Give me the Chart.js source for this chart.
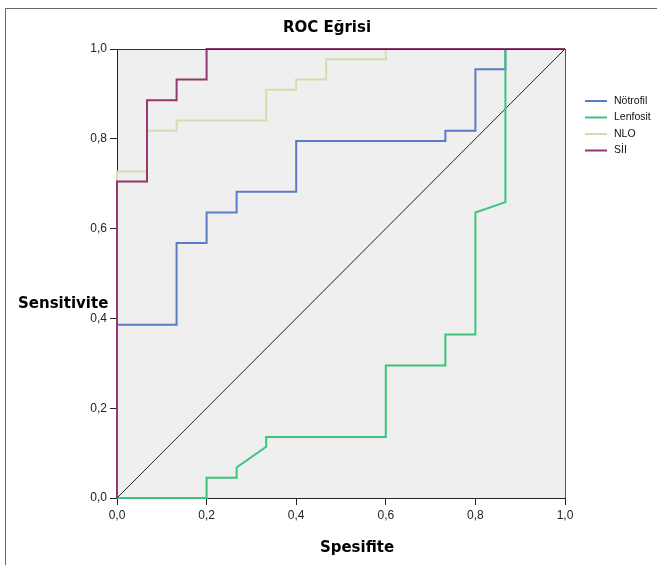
<!DOCTYPE html>
<html lang="en">
<head>
    <meta charset="UTF-8">
    <script src="https://cdn.jsdelivr.net/npm/chart.js@4.4.1/dist/chart.umd.min.js"></script>
    <title>ROC Eğrisi</title>
    <style>
        body { margin: 0; background: #fff; }
    </style>
</head>
<body>
    <canvas id="myChart" width="657" height="565"></canvas>
    <script>

        // ROC curve vertices (1 - specificity on x, sensitivity on y)
        var notrofilX = [0, 0, 0.133, 0.133, 0.2, 0.2, 0.267, 0.267, 0.4, 0.4, 0.733, 0.733, 0.8, 0.8, 0.867, 0.867, 1];
        var notrofilY = [0, 0.386, 0.386, 0.568, 0.568, 0.636, 0.636, 0.682, 0.682, 0.795, 0.795, 0.818, 0.818, 0.955, 0.955, 1, 1];

        var lenfositX = [0, 0.2, 0.2, 0.267, 0.267, 0.333, 0.333, 0.6, 0.6, 0.733, 0.733, 0.8, 0.8, 0.867, 0.867, 1];
        var lenfositY = [0, 0, 0.045, 0.045, 0.068, 0.114, 0.136, 0.136, 0.295, 0.295, 0.364, 0.364, 0.636, 0.659, 1, 1];

        var nloX = [0, 0, 0.067, 0.067, 0.133, 0.133, 0.333, 0.333, 0.4, 0.4, 0.467, 0.467, 0.6, 0.6, 1];
        var nloY = [0, 0.727, 0.727, 0.818, 0.818, 0.841, 0.841, 0.909, 0.909, 0.932, 0.932, 0.977, 0.977, 1, 1];

        var siiX = [0, 0, 0.067, 0.067, 0.133, 0.133, 0.2, 0.2, 1];
        var siiY = [0, 0.705, 0.705, 0.886, 0.886, 0.932, 0.932, 1, 1];

        var refX = [0, 1];
        var refY = [0, 1];

        var tickValues = [0, 0.2, 0.4, 0.6, 0.8, 1.0];
        var legendLabels = ['Nötrofil', 'Lenfosit', 'NLO', 'SİI'];
        var legendColors = ['#5a7cc6', '#3cc47e', '#d6dcaa', '#94376f'];

        function pts(xs, ys) {
            return xs.map(function(x, i) { return { x: x, y: ys[i] }; });
        }

        function line(label, xs, ys, color, width) {
            return {
                label: label,
                data: pts(xs, ys),
                showLine: true,
                borderColor: color,
                backgroundColor: color,
                borderWidth: width,
                pointRadius: 0,
                fill: false,
                tension: 0,
                clip: false
            };
        }

        function fmt(v) {
            return v.toFixed(1).replace('.', ',');
        }

        // background, frame, titles and legend
        var decor = {
            id: 'decor',
            beforeDraw: function(chart) {
                var c = chart.ctx, a = chart.chartArea;
                c.save();
                c.fillStyle = '#fff';
                c.fillRect(0, 0, chart.width, chart.height);
                c.fillStyle = '#efefef';
                c.fillRect(a.left, a.top, a.right - a.left, a.bottom - a.top);
                c.restore();
            },
            afterDraw: function(chart) {
                var c = chart.ctx, a = chart.chartArea;
                c.save();
                c.lineWidth = 1;
                c.strokeStyle = '#333';
                c.beginPath();
                c.moveTo(a.left, a.top + 0.5);
                c.lineTo(a.right, a.top + 0.5);
                c.stroke();
                c.strokeStyle = '#555';
                c.beginPath();
                c.moveTo(a.right + 0.5, a.top);
                c.lineTo(a.right + 0.5, a.bottom);
                c.stroke();

                // outer frame
                c.strokeStyle = '#666';
                c.beginPath();
                c.moveTo(5.5, chart.height);
                c.lineTo(5.5, 8.5);
                c.lineTo(chart.width, 8.5);
                c.stroke();

                c.fillStyle = '#000';
                c.font = 'bold 15px "DejaVu Sans"';
                c.textAlign = 'center';
                c.textBaseline = 'middle';
                c.fillText('ROC Eğrisi', 327, 28);
                c.fillText('Spesifite', 357, 548);
                c.textAlign = 'left';
                c.fillText('Sensitivite', 18, 304);

                // legend
                c.font = '10.5px "Liberation Sans"';
                for (var i = 0; i < legendLabels.length; i++) {
                    var y = 101 + i * 16.5;
                    c.strokeStyle = legendColors[i];
                    c.lineWidth = 2;
                    c.beginPath();
                    c.moveTo(585, y);
                    c.lineTo(607, y);
                    c.stroke();
                    c.fillStyle = '#111';
                    c.fillText(legendLabels[i], 614, y);
                }
                c.restore();
            }
        };

        var axisOpts = function(fitFn) {
            return {
                type: 'linear',
                min: 0,
                max: 1,
                afterBuildTicks: function(s) {
                    s.ticks = tickValues.map(function(v) { return { value: v }; });
                },
                ticks: {
                    callback: function(v) { return fmt(v); },
                    color: '#222',
                    font: { family: 'Liberation Sans', size: 12 },
                    padding: 3,
                    maxRotation: 0
                },
                grid: {
                    drawOnChartArea: false,
                    drawTicks: true,
                    tickLength: 7,
                    tickColor: '#222'
                },
                border: { color: '#222', width: 1 },
                afterFit: fitFn
            };
        };

        var ctx = document.getElementById('myChart').getContext('2d');
        var chart = new Chart(ctx, {
            type: 'scatter',
            data: {
                datasets: [
                    line('SİI', siiX, siiY, '#94376f', 2),
                    line('Lenfosit', lenfositX, lenfositY, '#3cc47e', 2),
                    line('Nötrofil', notrofilX, notrofilY, '#5a7cc6', 2),
                    line('NLO', nloX, nloY, '#d6dcaa', 2),
                    line('ref', refX, refY, '#222', 1)
                ]
            },
            options: {
                responsive: false,
                animation: false,
                layout: { padding: { left: 0, top: 49, right: 92, bottom: 0 } },
                plugins: {
                    legend: { display: false },
                    title: { display: false },
                    tooltip: { enabled: false }
                },
                scales: {
                    x: axisOpts(function(s) { s.height = 67; }),
                    y: axisOpts(function(s) { s.width = 117; })
                }
            },
            plugins: [decor]
        });
    </script>
</body>
</html>
